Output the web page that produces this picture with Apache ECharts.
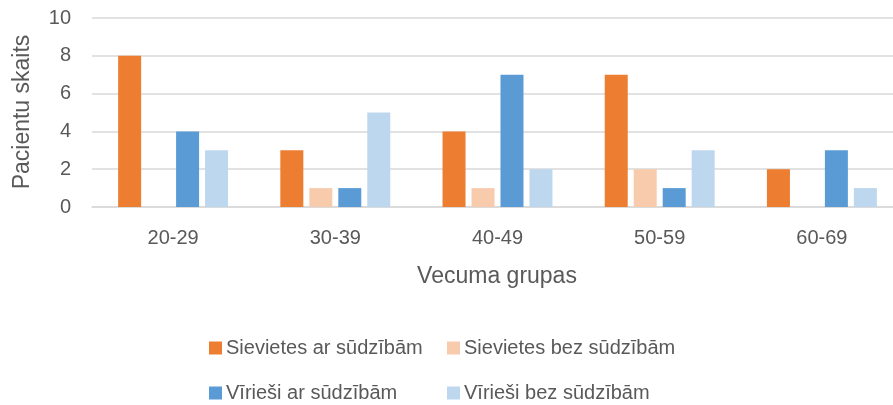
<!DOCTYPE html>
<html>
<head>
<meta charset="utf-8">
<script src="https://cdn.jsdelivr.net/npm/echarts@6/dist/echarts.min.js"></script>
<style>
  html, body { margin: 0; padding: 0; background: #fff; }
  #chart { width: 893px; height: 405px; }
</style>
</head>
<body>
<div id="chart"></div>
<script>
const ageGroups = ["20-29", "30-39", "40-49", "50-59", "60-69"];
const womenWithComplaints = [8, 3, 4, 7, 2];
const womenNoComplaints = [0, 1, 1, 2, 0];
const menWithComplaints = [4, 1, 7, 1, 3];
const menNoComplaints = [3, 5, 2, 3, 1];
const seriesNames = [
  "Sievietes ar sūdzībām",
  "Sievietes bez sūdzībām",
  "Vīrieši ar sūdzībām",
  "Vīrieši bez sūdzībām"
];
const seriesColors = ["#ED7D31", "#F8CBAD", "#5B9BD5", "#BDD7EE"];

const font = "'Liberation Sans', Arial, sans-serif";
const textColor = "#595959";

const chart = echarts.init(document.getElementById("chart"));

// one legend per item so the 2x2 layout can be placed exactly
const legendSpots = [
  { left: 209, top: 338 },
  { left: 447, top: 338 },
  { left: 209, top: 383 },
  { left: 447, top: 383 }
];

const seriesData = [womenWithComplaints, womenNoComplaints, menWithComplaints, menNoComplaints];

chart.setOption({
  animation: false,
  textStyle: { fontFamily: font },
  // plot runs past the right edge of the picture, like the original
  grid: { left: 92, width: 811, top: 18, bottom: 198, outerBoundsMode: "none" },
  legend: legendSpots.map((spot, i) => ({
    data: [seriesNames[i]],
    left: spot.left,
    top: spot.top,
    itemWidth: 13,
    itemHeight: 13,
    itemGap: 0,
    icon: "rect",
    textStyle: { color: textColor, fontSize: 20, lineHeight: 20, fontFamily: font, padding: [0, 0, 0, -1] },
    padding: 0
  })),
  graphic: [
    {
      type: "text",
      x: 497,
      y: 277,
      style: {
        text: "Vecuma grupas",
        fill: textColor,
        font: "23px " + font,
        align: "center",
        verticalAlign: "middle"
      }
    },
    {
      type: "text",
      x: 23,
      y: 112,
      rotation: Math.PI / 2,
      style: {
        text: "Pacientu skaits",
        fill: textColor,
        font: "23px " + font,
        align: "center",
        verticalAlign: "middle"
      }
    }
  ],
  xAxis: {
    type: "category",
    data: ageGroups,
    axisLine: { lineStyle: { color: "#D9D9D9", width: 1.5 } },
    axisTick: { show: false },
    axisLabel: { color: textColor, fontSize: 20, margin: 21 }
  },
  yAxis: {
    type: "value",
    min: 0,
    max: 10,
    interval: 2,
    axisLine: { show: false },
    axisTick: { show: false },
    axisLabel: { color: textColor, fontSize: 20, margin: 21 },
    splitLine: { lineStyle: { color: "#D9D9D9", width: 1.5 } }
  },
  series: seriesNames.map((name, i) => ({
    name: name,
    type: "bar",
    data: seriesData[i],
    barWidth: 23,
    barGap: "26%",
    itemStyle: { color: seriesColors[i] }
  }))
});
</script>
</body>
</html>
